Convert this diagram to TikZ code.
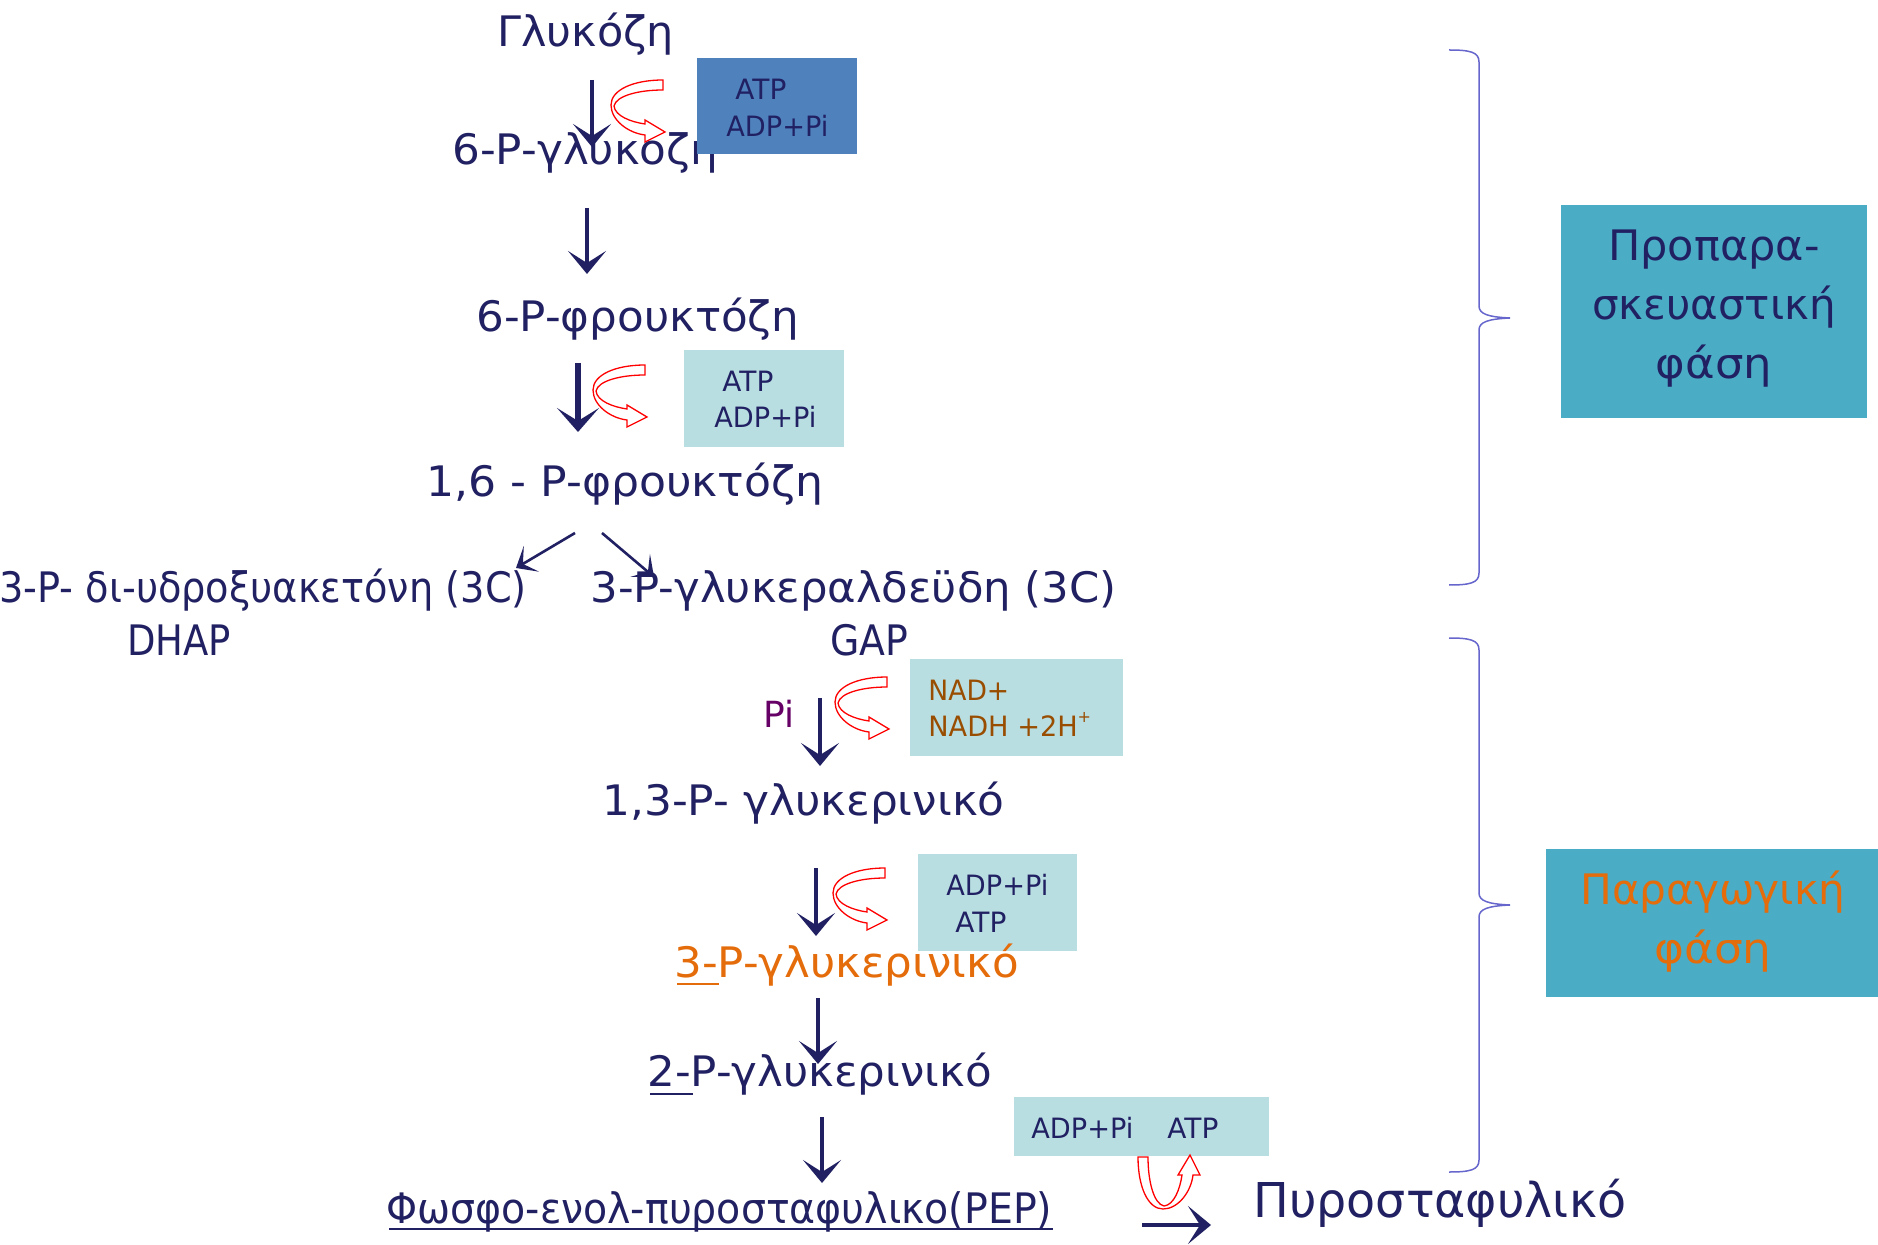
\documentclass[tikz,border=0pt]{standalone}
\usepackage{fontspec}
\usepackage{graphicx}
\setmainfont{DejaVu Sans}
\usetikzlibrary{arrows.meta}
\definecolor{navy}{RGB}{32,32,98}
\definecolor{boxblue}{RGB}{79,129,189}
\definecolor{boxlight}{RGB}{184,222,226}
\definecolor{boxteal}{RGB}{75,172,198}
\definecolor{orng}{RGB}{228,108,10}
\definecolor{brwn}{RGB}{153,77,0}
\definecolor{purp}{RGB}{102,0,102}
\definecolor{bracec}{RGB}{102,102,204}
\newcommand\sx[2]{\scalebox{#1}[1]{#2}}
\newcommand\rcarrow[3]{%
  \draw[redarr, shift={(#1,#2)}, rotate=#3]
    (0,0) .. controls (-30,0) and (-52,10) .. (-52,25)
    .. controls (-52,40) and (-35,53) .. (-18,55)
    -- (-18,62) -- (2,52) -- (-18,40) -- (-18,44)
    .. controls (-32,42) and (-48,36) .. (-49,26)
    .. controls (-47,16) and (-25,10) .. (0,10) -- cycle;}
\newcommand\phasebrace[3]{%
  \draw[bracel] (1449,#1) .. controls (1470,#1) and (1479,#1+2) .. (1479,#1+12)
    -- (1479,#2-12) .. controls (1479,#2-4) and (1488,#2-1) .. (1510,#2)
    .. controls (1488,#2+1) and (1479,#2+4) .. (1479,#2+12)
    -- (1479,#3-12) .. controls (1479,#3-2) and (1470,#3) .. (1449,#3);}
\begin{document}
\begin{tikzpicture}[x=0.5pt,y=-0.5pt,
  txt/.style={inner sep=0pt, anchor=base west, text=navy, font=\fontsize{21}{25}\selectfont},
  sml/.style={inner sep=0pt, anchor=base west, text=navy, font=\fontsize{14}{17}\selectfont},
  flow/.style={draw=navy, line width=1.8pt, -{Stealth[length=11.5pt,width=19pt,inset=6pt]}},
  thickflow/.style={draw=navy, line width=2.6pt, -{Stealth[length=12pt,width=21pt,inset=6.5pt]}},
  splitflow/.style={draw=navy, line width=1.3pt, -{Stealth[length=9pt,width=15pt,inset=5pt]}},
  redarr/.style={draw=red, fill=white, line width=0.65pt, line join=miter},
  bracel/.style={draw=bracec, line width=0.75pt},
  phase/.style={inner sep=0pt, align=center, font=\fontsize{21}{29.5}\selectfont}]
\useasboundingbox (0,0) rectangle (1878,1245);

% braces
\phasebrace{50}{318}{585}
\phasebrace{638}{905}{1172}

% phase boxes
\fill[boxteal] (1561,205) rectangle (1867,418);
\node[phase, text=navy] (prep) at (1714,309) {\sx{1.024}{Προπαρα-}\\σκευαστική\\\sx{1.07}{φάση}};
\fill[boxteal] (1546,849) rectangle (1878,997);
\node[phase, text=orng] (prod) at (1713,922) {\sx{1.005}{Παραγωγική}\\\sx{1.08}{φάση}};

% light boxes
\fill[boxlight] (684,350) rectangle (844,447);
\fill[boxlight] (910,659) rectangle (1123,756);
\fill[boxlight] (918,854) rectangle (1077,951);
\fill[boxlight] (1014,1097) rectangle (1269,1156);

% main chain texts
\node[txt] (glu) at (497,47) {\sx{1.024}{Γλυκόζη}};
\node[txt] (g6p) at (452,165) {\sx{1.04}{6-P-γλυκόζη}};
\node[txt] (f6p) at (476,332) {\sx{1.038}{6-P-φρουκτόζη}};
\node[txt] (f16) at (426,497) {\sx{1.05}{1,6 - P-φρουκτόζη}};
\node[txt] (dhap) at (-1,602) {\sx{0.912}{3-P- δι-υδροξυακετόνη (3C)}};
\node[txt] (dhapn) at (127,655) {\sx{0.88}{DHAP}};
\node[txt] (gap) at (590,602) {\sx{1.033}{3-P-γλυκεραλδεϋδη (3C)}};
\node[txt] (gapn) at (830,655) {\sx{0.9}{GAP}};
\node[txt] (bpg) at (602,815) {\sx{1.044}{1,3-P- γλυκερινικό}};
\node[txt, text=orng] (pg3) at (674,977) {\sx{1.037}{3-P-γλυκερινικό}};
\node[txt] (pg2) at (647,1086) {\sx{1.037}{2-P-γλυκερινικό}};
\node[txt] (pep) at (386,1223) {\sx{0.94}{Φωσφο-ενολ-πυροσταφυλικο(PEP)}};
\node[inner sep=0pt, anchor=base west, text=navy, font=\fontsize{24}{28}\selectfont] (pyr) at (1253,1217) {\sx{0.99}{Πυροσταφυλικό}};

% underlines
\draw[orng, line width=1pt] (677,984) -- (719,984);
\draw[navy, line width=1pt] (650,1094) -- (693,1094);
\draw[navy, line width=1pt] (389,1229) -- (1053,1229);

% box 1 (drawn over the text)
\fill[boxblue] (697,58) rectangle (857,154);
\node[sml] (atp1) at (735,100) {ATP};
\node[sml] (adp1) at (726,137) {\sx{0.97}{ADP+Pi}};
\node[sml] (atp2) at (722,392) {ATP};
\node[sml] (adp2) at (714,428) {\sx{0.97}{ADP+Pi}};
\node[sml, text=brwn] (nad) at (928,700) {\sx{0.95}{NAD+}};
\node[sml, text=brwn] (nadh) at (928,736) {\sx{0.97}{NADH +2H}\raisebox{7pt}{\fontsize{8}{9}\selectfont +}};
\node[sml] (adp4) at (946,895) {\sx{0.97}{ADP+Pi}};
\node[sml] (atp4) at (955,932) {ATP};
\node[sml] (adp5) at (1031,1138) {\sx{0.97}{ADP+Pi}};
\node[sml] (atp5) at (1167,1138) {ATP};
\node[inner sep=0pt, anchor=base west, text=purp, font=\fontsize{18}{21}\selectfont] (pi) at (763,727) {Pi};

% connector end points
\coordinate (a1s) at (592,80);   \coordinate (a1e) at (592,147);
\coordinate (a2s) at (587,208);  \coordinate (a2e) at (587,274);
\coordinate (a3s) at (578,363);  \coordinate (a3e) at (578,432);
\coordinate (sls) at (575,533);  \coordinate (sle) at (516,568);
\coordinate (srs) at (602,533);  \coordinate (sre) at (654,577);
\coordinate (a4s) at (820,698);  \coordinate (a4e) at (820,766);
\coordinate (a5s) at (816,868);  \coordinate (a5e) at (816,936);
\coordinate (a6s) at (818,998);  \coordinate (a6e) at (818,1064);
\coordinate (a7s) at (822,1117); \coordinate (a7e) at (822,1183);
\coordinate (hs) at (1142,1225); \coordinate (he) at (1211,1225);

\draw[flow] (a1s) -- (a1e);
\draw[flow] (a2s) -- (a2e);
\draw[thickflow] (a3s) -- (a3e);
\draw[splitflow] (sls) -- (sle);
\draw[splitflow] (srs) -- (sre);
\draw[flow] (a4s) -- (a4e);
\draw[flow] (a5s) -- (a5e);
\draw[flow] (a6s) -- (a6e);
\draw[flow] (a7s) -- (a7e);
\draw[flow] (hs) -- (he);

% red curved arrows
\rcarrow{663}{80}{0}
\rcarrow{645}{365}{0}
\rcarrow{887}{677}{0}
\rcarrow{885}{868}{0}
\rcarrow{1138}{1157}{90}
\end{tikzpicture}
\end{document}
